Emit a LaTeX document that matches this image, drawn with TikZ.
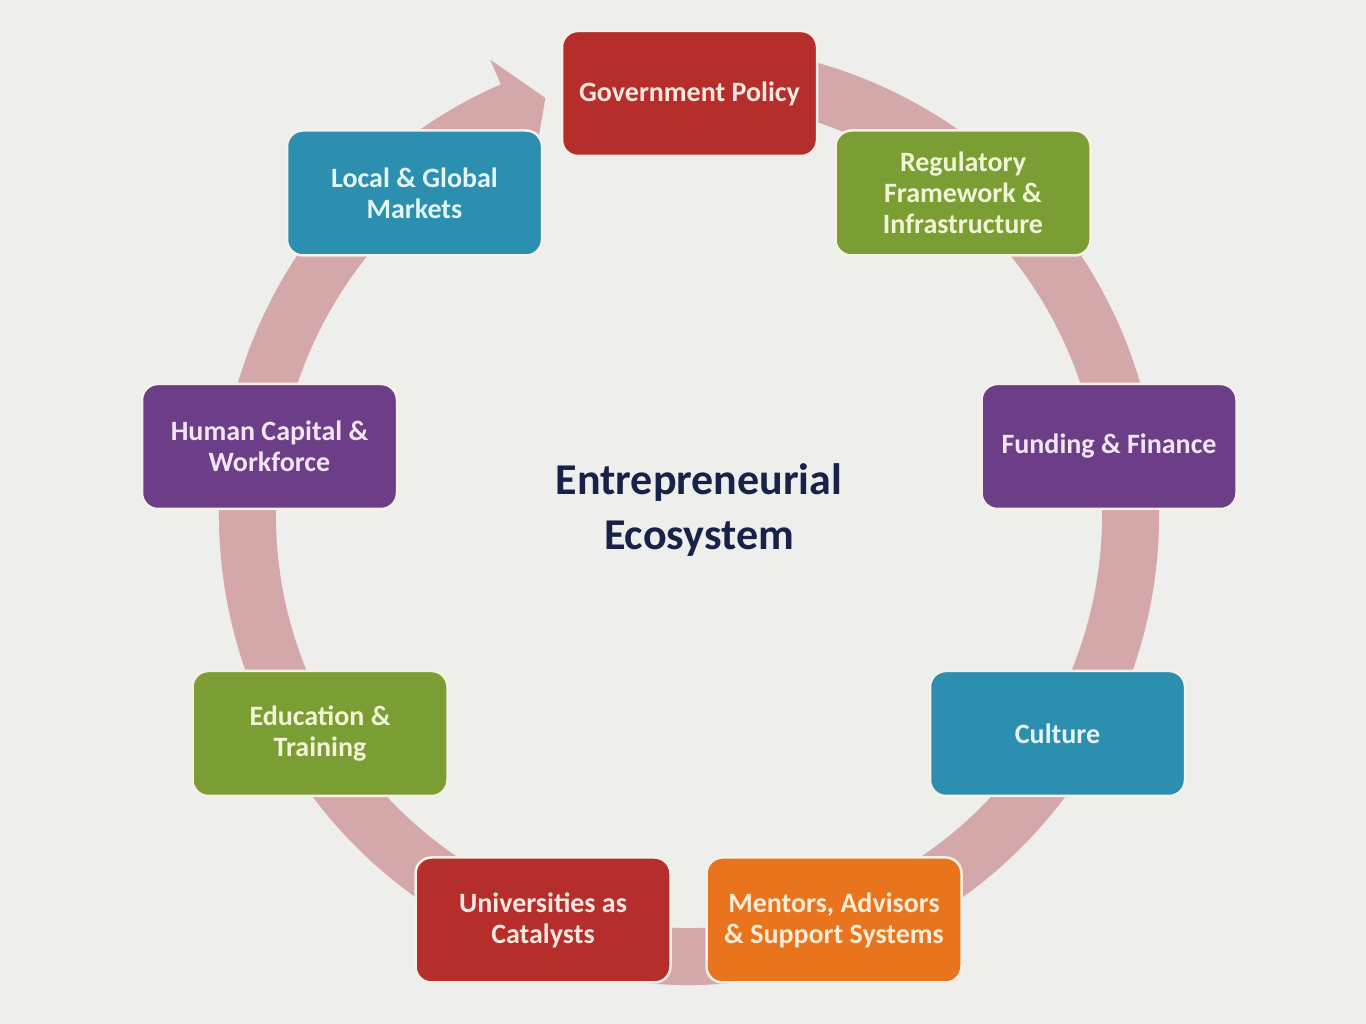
\documentclass[tikz,border=0pt]{standalone}
\usepackage{fontspec}
\setmainfont{Carlito}
\usetikzlibrary{calc}
\definecolor{bgc}{RGB}{238,238,236}
\definecolor{ringc}{RGB}{212,168,168}
\definecolor{redc}{RGB}{181,46,43}
\definecolor{greenc}{RGB}{122,158,52}
\definecolor{purplec}{RGB}{108,62,136}
\definecolor{tealc}{RGB}{44,143,176}
\definecolor{orangec}{RGB}{232,116,30}
\definecolor{navyc}{RGB}{24,34,72}
\definecolor{framec}{RGB}{246,240,230}
\definecolor{txred}{RGB}{250,232,222}
\definecolor{txgreen}{RGB}{240,245,214}
\definecolor{txpurple}{RGB}{242,230,244}
\definecolor{txteal}{RGB}{226,246,248}
\definecolor{txorange}{RGB}{252,236,214}
\begin{document}
\begin{tikzpicture}[x=1pt,y=1pt,
  card/.style={draw=framec, line width=2.5pt, rounded corners=16pt,
    minimum width=255pt, minimum height=125pt, align=center,
    font=\bfseries\fontsize{28}{31}\selectfont, inner sep=4pt},
  redcard/.style={card, fill=redc, text=txred},
  greencard/.style={card, fill=greenc, text=txgreen},
  purplecard/.style={card, fill=purplec, text=txpurple},
  tealcard/.style={card, fill=tealc, text=txteal},
  orangecard/.style={card, fill=orangec, text=txorange},
  title/.style={align=center, text=navyc, font=\bfseries\fontsize{44}{55}\selectfont}]
\fill[bgc] (0,0) rectangle (1366,1024);
\useasboundingbox (0,0) rectangle (1366,1024);
\coordinate (C) at (689,509);
% circular band
\fill[ringc] ($(C)+(100:470pt)$) arc[start angle=100, end angle=-246.8, radius=470pt]
  -- ($(C)+(-246.8:413pt)$) arc[start angle=-246.8, end angle=100, radius=413pt] -- cycle;
% arrow head
\fill[ringc] ($(C)+(113.6:497pt)$) -- ($(C)+(109:441pt)$) -- ($(C)+(113.6:386pt)$) -- cycle;
% boxes
\node[redcard] (gov) at (689.5,930.5) {Government Policy};
\node[greencard] (reg) at (963,831) {Regulatory\\Framework \&\\Infrastructure};
\node[purplecard] (fund) at (1109,577.5) {Funding \& Finance};
\node[tealcard] (cult) at (1057.5,290.5) {Culture};
\node[orangecard] (ment) at (834,104) {Mentors, Advisors\\\& Support Systems};
\node[redcard] (univ) at (543,104) {Universities as\\Catalysts};
\node[greencard] (edu) at (320,290.5) {Education \&\\Training};
\node[purplecard] (hum) at (269.5,577.5) {Human Capital \&\\Workforce};
\node[tealcard] (loc) at (414.5,831) {Local \& Global\\Markets};
\node[title] (eco) at (699,514) {Entrepreneurial\\Ecosystem};
\end{tikzpicture}
\end{document}
